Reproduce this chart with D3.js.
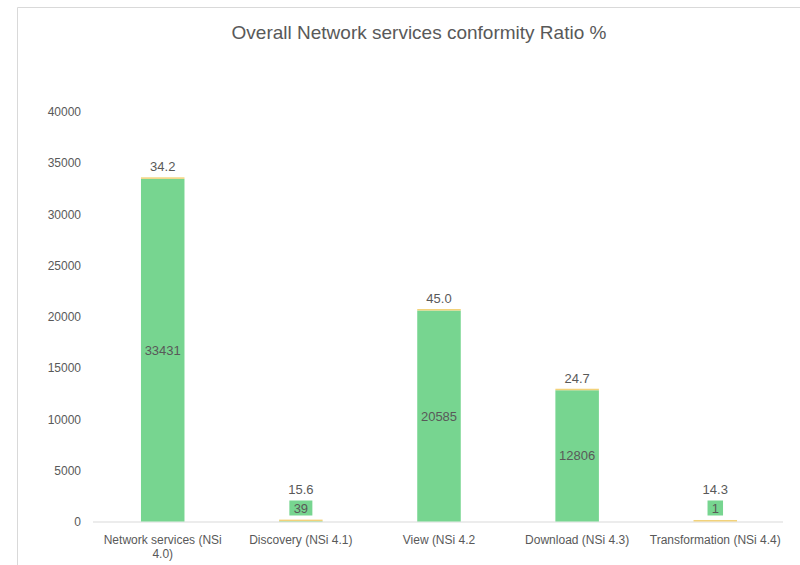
<!DOCTYPE html>
<html>
<head>
<meta charset="utf-8">
<script src="https://cdn.jsdelivr.net/npm/d3@7"></script>
<style>
  body { margin: 0; background: #fff; }
  svg text { font-family: "Liberation Sans", Arial, sans-serif; fill: #595959; }
</style>
</head>
<body>
<svg id="chart"></svg>
<script>
// data
const categories = ["Network services (NSi 4.0)", "Discovery (NSi 4.1)", "View (NSi 4.2", "Download (NSi 4.3)", "Transformation (NSi 4.4)"];
const counts = [33431, 39, 20585, 12806, 1];
const ratios = [34.2, 15.6, 45.0, 24.7, 14.3];
const yTicks = [0, 5000, 10000, 15000, 20000, 25000, 30000, 35000, 40000];

const width = 800, height = 565;
const margin = { top: 111.5, right: 16, bottom: 43.5, left: 94 };

const svg = d3.select("#chart")
    .attr("width", width)
    .attr("height", height);

// chart frame
svg.append("path")
    .attr("d", `M17.5,${height} V7.5 H${width}`)
    .attr("fill", "none")
    .attr("stroke", "#d9d9d9");

svg.append("text")
    .attr("x", 419)
    .attr("y", 39)
    .attr("text-anchor", "middle")
    .style("font-size", "19px")
    .text("Overall Network services conformity Ratio %");

const x = d3.scaleBand()
    .domain(categories)
    .range([margin.left, width - margin.right])
    .paddingInner(0.685)
    .paddingOuter(0.34);

const y = d3.scaleLinear()
    .domain([0, 40000])
    .range([height - margin.bottom, margin.top]);

const data = categories.map((c, i) => ({ cat: c, count: counts[i], ratio: ratios[i] }));

// y axis labels only
const yAxis = svg.append("g")
    .attr("transform", `translate(${margin.left - 10},0)`)
    .call(d3.axisLeft(y).tickValues(yTicks).tickSize(0).tickFormat(d3.format("d")));
yAxis.select(".domain").remove();
yAxis.selectAll("text").style("font-size", "12px").attr("dy", "0.35em");

// baseline
svg.append("line")
    .attr("x1", margin.left - 1).attr("x2", width - margin.right - 1)
    .attr("y1", y(0) + 0.5).attr("y2", y(0) + 0.5)
    .attr("stroke", "#d9d9d9");

// green segment
svg.selectAll(".bar")
    .data(data)
    .join("rect")
    .attr("class", "bar")
    .attr("x", d => x(d.cat))
    .attr("width", x.bandwidth())
    .attr("y", d => y(d.count))
    .attr("height", d => y(0) - y(d.count))
    .attr("fill", "#77d590");

// yellow segment stacked on top
svg.selectAll(".ratio")
    .data(data)
    .join("rect")
    .attr("class", "ratio")
    .attr("x", d => x(d.cat))
    .attr("width", x.bandwidth())
    .attr("y", d => Math.min(y(d.count + d.ratio), y(d.count) - 1.5))
    .attr("height", 1.5)
    .attr("fill", "#f2d27a");

// count labels
data.forEach(d => {
    const cx = x(d.cat) + x.bandwidth() / 2;
    const barH = y(0) - y(d.count);
    let topY;
    if (barH > 20) {
        svg.append("text")
            .attr("x", cx)
            .attr("y", (y(d.count) + y(0)) / 2)
            .attr("dy", "0.35em")
            .attr("text-anchor", "middle")
            .style("font-size", "13px")
            .text(d.count);
        topY = y(d.count + d.ratio);
    } else {
        const label = String(d.count);
        const bw = label.length * 7.5 + 8, bh = 15;
        const by = y(0) - 6 - bh;
        svg.append("rect")
            .attr("x", cx - bw / 2)
            .attr("y", by)
            .attr("width", bw)
            .attr("height", bh)
            .attr("fill", "#77d590");
        svg.append("text")
            .attr("x", cx)
            .attr("y", by + bh / 2)
            .attr("dy", "0.35em")
            .attr("text-anchor", "middle")
            .style("font-size", "13px")
            .text(label);
        topY = by;
    }
    svg.append("text")
        .attr("x", cx)
        .attr("y", topY - 7)
        .attr("text-anchor", "middle")
        .style("font-size", "13px")
        .text(d.ratio.toFixed(1));
});

// category labels, wrapped like the original
const wrapAt = 25;
data.forEach(d => {
    const cx = x(d.cat) + x.bandwidth() / 2;
    const words = d.cat.split(" ");
    const lines = [];
    let line = "";
    words.forEach(w => {
        const t = line ? line + " " + w : w;
        if (t.length > wrapAt && line) { lines.push(line); line = w; }
        else line = t;
    });
    lines.push(line);
    const txt = svg.append("text")
        .attr("x", cx)
        .attr("y", y(0) + 22)
        .attr("text-anchor", "middle")
        .style("font-size", "12px");
    lines.forEach((l, i) => {
        txt.append("tspan").attr("x", cx).attr("dy", i ? 14 : 0).text(l);
    });
});
</script>
</body>
</html>
